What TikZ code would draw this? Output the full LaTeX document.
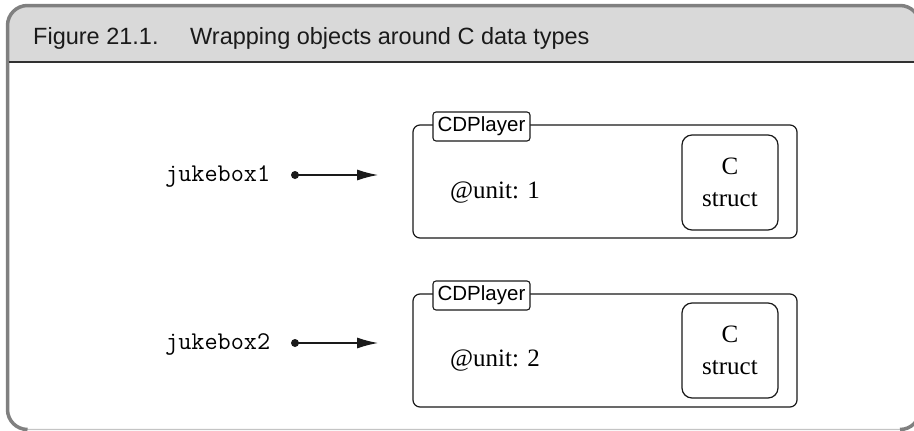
\documentclass[tikz,border=0pt]{standalone}
\usepackage{fontspec}
\setmainfont{Liberation Serif}
\setsansfont{Liberation Sans}
\usetikzlibrary{arrows.meta}
\definecolor{hdr}{HTML}{D9D9D9}
\definecolor{frm}{HTML}{808080}
\definecolor{frmlight}{HTML}{C4C4C4}
\definecolor{ink}{HTML}{1A1A1A}
\tikzset{
  objbox/.style={draw=ink, line width=1.2pt, rounded corners=7pt, minimum width=384pt, minimum height=113pt, inner sep=0pt},
  classlabel/.style={draw=ink, line width=1.1pt, fill=white, rounded corners=3pt, minimum width=97pt, minimum height=29pt, inner sep=0pt, font=\sffamily\fontsize{20.5}{24}\selectfont},
  structbox/.style={draw=ink, line width=1.2pt, rounded corners=10pt, minimum width=96pt, minimum height=95pt, inner sep=0pt, align=center, font=\fontsize{25}{32}\selectfont},
  ivar/.style={anchor=base west, inner sep=0pt, font=\fontsize{25}{30}\selectfont},
  varname/.style={anchor=base west, inner sep=0pt, font=\ttfamily\fontsize{25.5}{30}\selectfont},
  refdot/.style={circle, fill=ink, minimum size=8pt, inner sep=0pt},
  refarrow/.style={draw=ink, line width=1.2pt, -{Latex[length=21pt, width=11pt]}},
  titletext/.style={anchor=base west, inner sep=0pt, text=ink, font=\sffamily\fontsize{23.5}{28}\selectfont}
}
\begin{document}
\begin{tikzpicture}[x=1pt, y=-1pt]
\useasboundingbox (0,0) rectangle (914,431);
% frame and header
\begin{scope}
  \clip[rounded corners=20pt] (7.5,5.5) rectangle (920,429.5);
  \fill[white] (0,0) rectangle (920,431);
  \fill[hdr] (0,0) rectangle (920,62);
\end{scope}
\draw[frmlight, line width=1.2pt, rounded corners=20pt] (7.5,5.5) rectangle (920,429.5);
\draw[frm, line width=3.5pt, rounded corners=20pt] (27.5,429.5) -- (7.5,429.5) -- (7.5,5.5) -- (920,5.5) -- (920,429.5) -- (900,429.5);
\draw[ink!90, line width=1.5pt] (8.5,62) -- (920,62);
\node[titletext] (fignum) at (33,45) {Figure 21.1.};
\node[titletext] (figtitle) at (190,45) {Wrapping objects around C data types};

% object 1
\node[objbox] (obj1) at (605,181.5) {};
\node[classlabel] (cls1) at (481.5,126.5) {CDPlayer};
\node[structbox] (st1) at (730,182.5) {C\\struct};
\node[ivar] (iv1) at (450,198) {@unit: 1};
\node[varname] (jb1) at (165,181) {jukebox1};
\node[refdot] (d1) at (295,175) {};
\coordinate (t1) at (378,175);
\draw[refarrow] (d1.center) -- (t1);

% object 2
\node[objbox] (obj2) at (605,350.5) {};
\node[classlabel] (cls2) at (481.5,295.5) {CDPlayer};
\node[structbox] (st2) at (730,350.5) {C\\struct};
\node[ivar] (iv2) at (450,366) {@unit: 2};
\node[varname] (jb2) at (165,349) {jukebox2};
\node[refdot] (d2) at (295,343) {};
\coordinate (t2) at (378,343);
\draw[refarrow] (d2.center) -- (t2);
\end{tikzpicture}
\end{document}
